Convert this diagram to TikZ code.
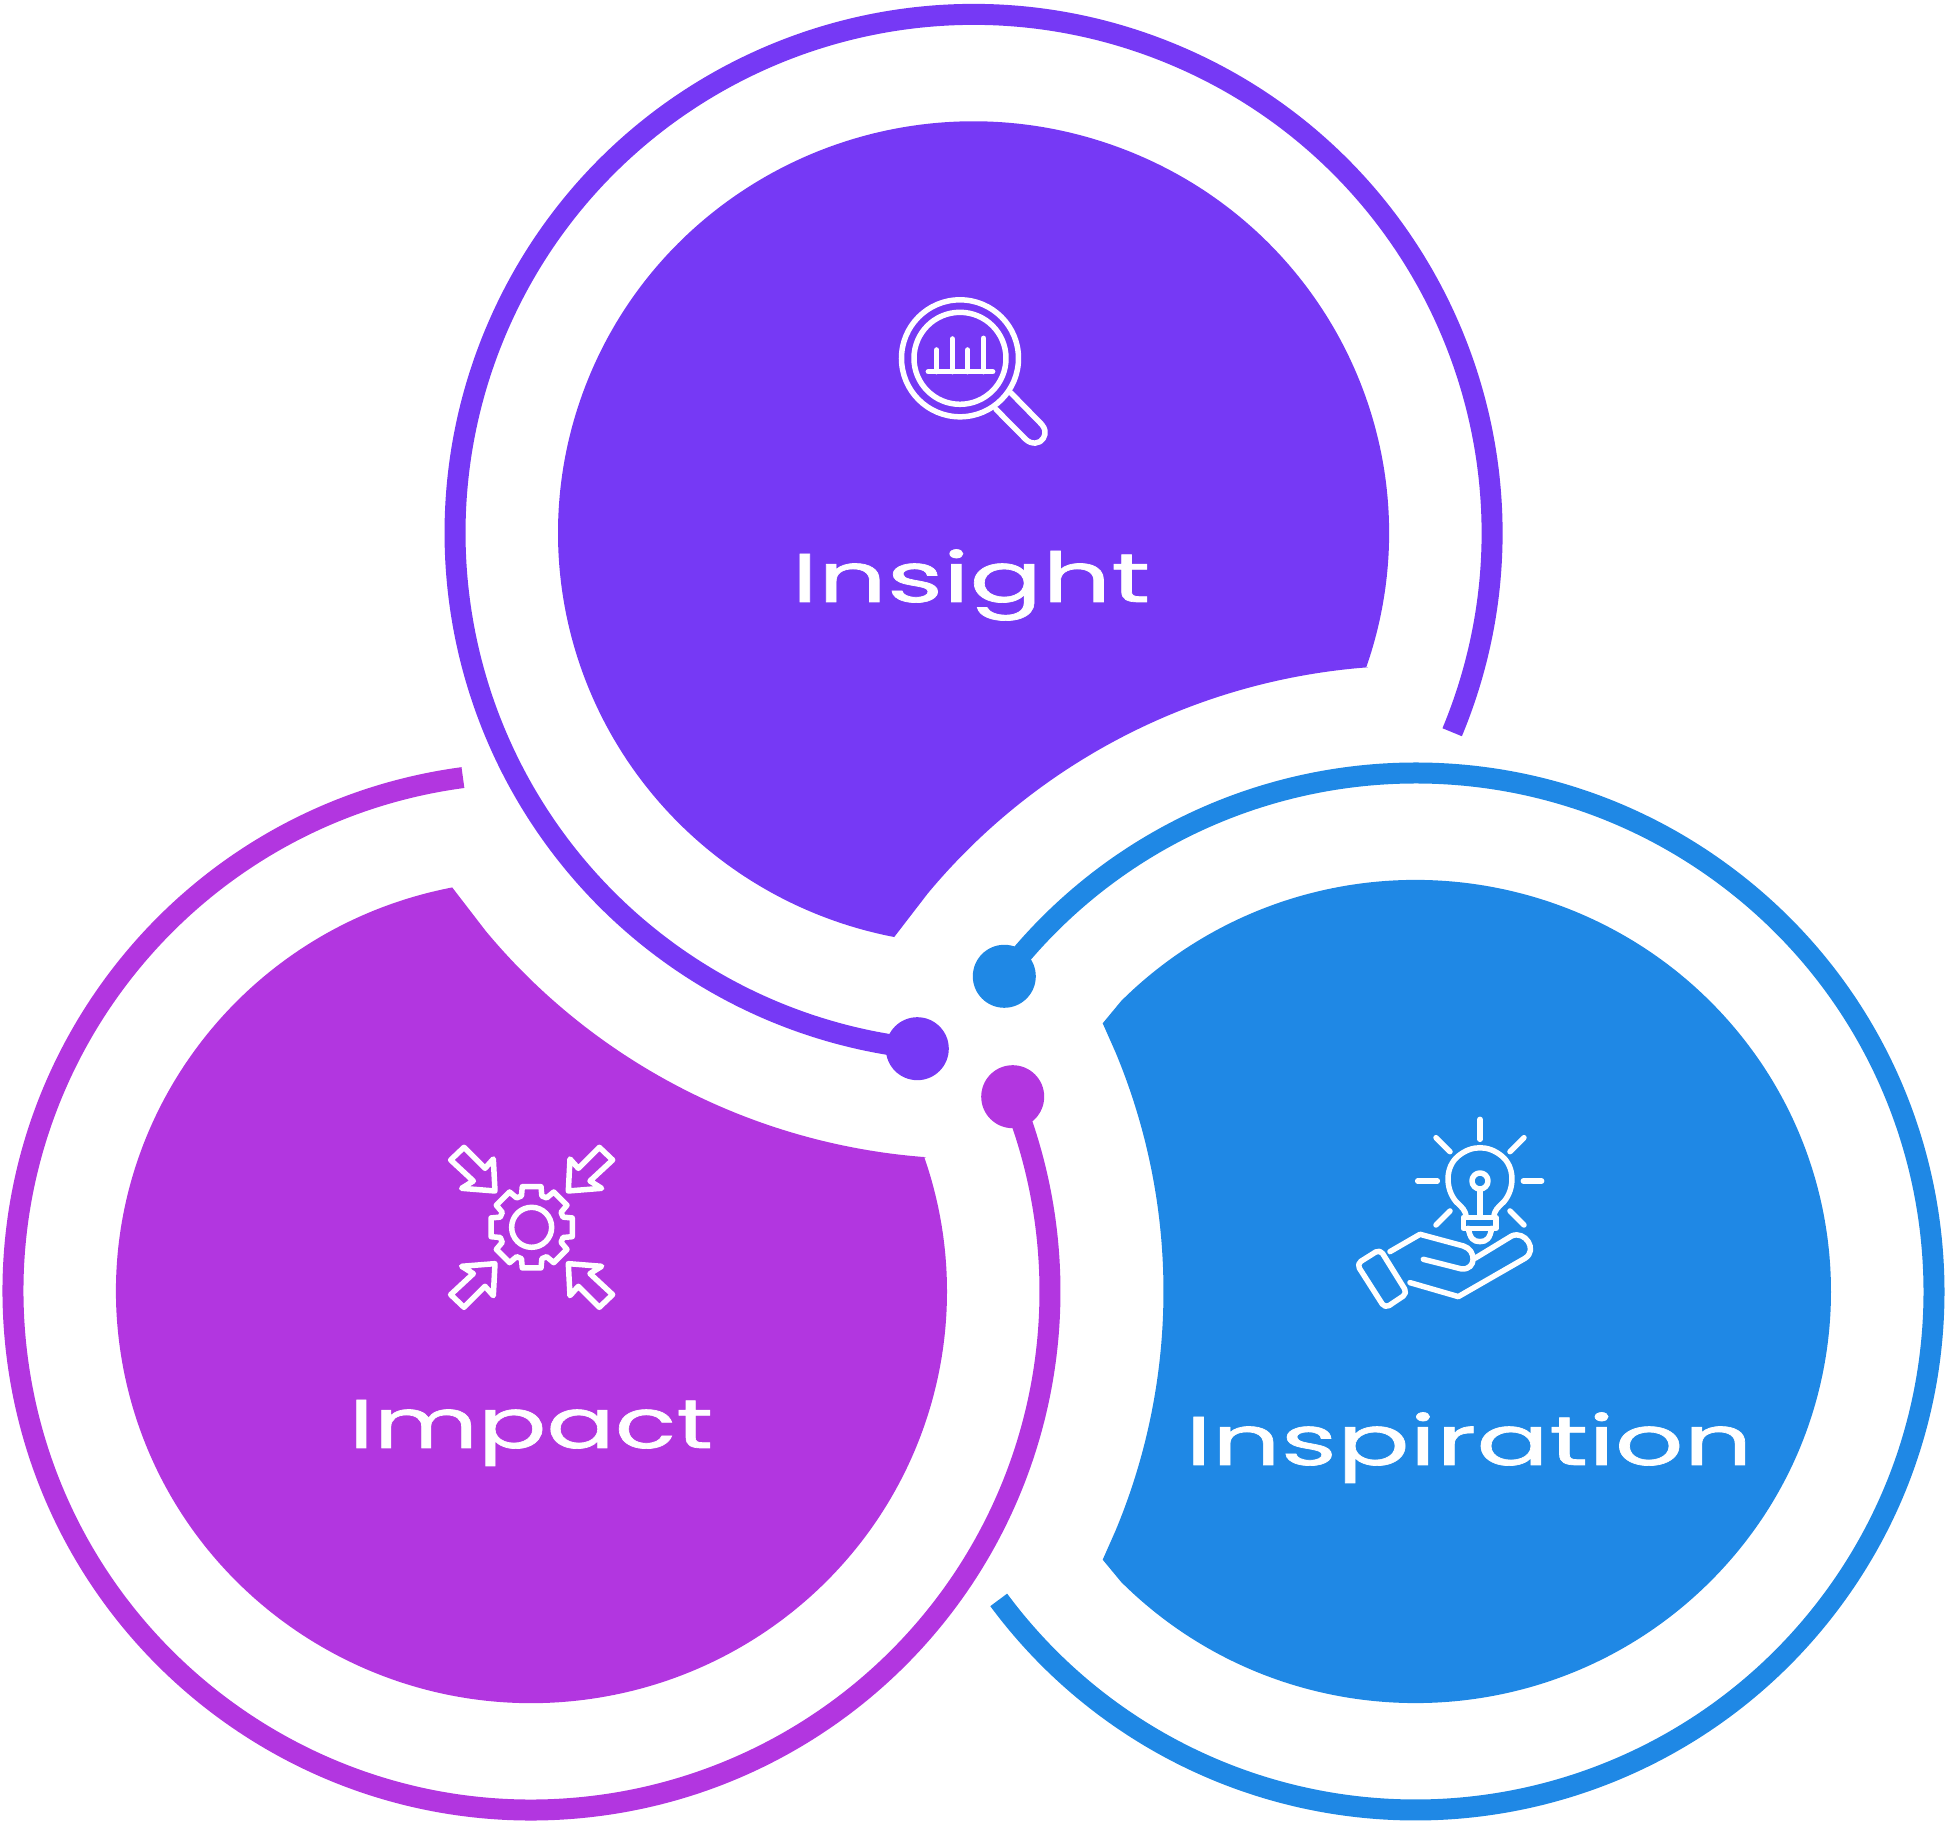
\documentclass[tikz,border=0pt]{standalone}
\usepackage{fontspec}
\setmainfont[FakeStretch=1.56,FakeBold=1]{Poppins}
\definecolor{insightcol}{RGB}{118,57,245}
\definecolor{impactcol}{RGB}{178,54,224}
\definecolor{inspirecol}{RGB}{31,136,229}
\tikzset{
  ringarc/.style={line width=21pt},
  jointdot/.style={circle,inner sep=0pt,minimum size=63pt},
  bigword/.style={text=white,anchor=base,inner sep=0pt,font=\fontsize{69}{69}\selectfont},
  iconline/.style={draw=white,line width=5.5pt,line cap=round,line join=round}
}
\begin{document}
\begin{tikzpicture}[x=1pt,y=1pt]
  \useasboundingbox (0,0) rectangle (1947,1824);
  \coordinate (insightc) at (973.5,1291);
  \coordinate (impactc) at (531.5,532.5);
  \coordinate (inspirec) at (1415.5,532.5);
  \coordinate (inspiretip) at (1102.7,800.7);
  \coordinate (inspiretail) at (1102.7,264.3);
  % rings
  \draw[ringarc,insightcol] ([shift={(-22.6:518.5pt)}]insightc) arc[start angle=-22.6,end angle=263.7,radius=518.5pt];
  \draw[ringarc,impactcol] ([shift={(97.6:518.5pt)}]impactc) arc[start angle=97.6,end angle=382,radius=518.5pt];
  \draw[ringarc,inspirecol] ([shift={(142.6:518.5pt)}]inspirec) arc[start angle=142.6,end angle=-143.5,radius=518.5pt];
  \node[jointdot,fill=insightcol] (insightdot) at (917.3,775.3) {};
  \node[jointdot,fill=impactcol] (impactdot) at (1012.7,727.3) {};
  \node[jointdot,fill=inspirecol] (inspiredot) at (1004.3,847.7) {};
  % cut discs
  \fill[insightcol] ([shift={(-19:415.5pt and 411.6pt)}]insightc) arc[start angle=-19,end angle=259,x radius=415.5pt,y radius=411.6pt]
    -- ([shift={(140.5:632pt and 626pt)}]inspirec) arc[start angle=140.5,end angle=94.3,x radius=632pt,y radius=626pt] -- cycle;
  \fill[impactcol] ([shift={(101:415.5pt and 411.6pt)}]impactc) arc[start angle=101,end angle=379,x radius=415.5pt,y radius=411.6pt]
    -- ([shift={(265.7:632pt and 626pt)}]insightc) arc[start angle=265.7,end angle=219.5,x radius=632pt,y radius=626pt] -- cycle;
  \fill[inspirecol] ([shift={(224.9:415.5pt and 411.6pt)}]inspirec) arc[start angle=224.9,end angle=495.1,x radius=415.5pt,y radius=411.6pt]
    -- (inspiretip) -- ([shift={(22.5:632pt and 626pt)}]impactc) arc[start angle=22.5,end angle=-22.5,x radius=632pt,y radius=626pt]
    -- (inspiretail) -- cycle;
  % words
  \node[bigword] (insightword) at (971,1222) {Insight};
  \node[bigword] (impactword) at (531,376) {\scalebox{0.94}[1]{Impact}};
  \node[bigword] (inspireword) at (1469,359) {Inspiration};
  % magnifier
  \begin{scope}[shift={(860,1554)},x=0.3333pt,y=-0.3333pt,iconline]
    \draw (300,265) circle[radius=58.5pt];
    \draw (300,265) circle[radius=46pt];
    \draw (205,305) -- (398,305);
    \foreach \barx/\bary in {230/240,277/207,323/240,371/205}
      \draw (\barx,305) -- (\barx,\bary);
    \draw (408,418) -- (497,508) .. controls (515,525) and (540,522) .. (550,505)
      .. controls (560,488) and (555,475) .. (545,463) -- (452,368);
  \end{scope}
  % gear and arrows
  \begin{scope}[shift={(430,704)},x=0.3333pt,y=-0.3333pt,iconline]
    \draw (305,322) circle[radius=20pt];
    \draw ([shift={(305,322)}]-13:125) \foreach \ang in {0,45,...,315}
      {-- ([shift={(305,322)}]\ang-13:125) -- ([shift={(305,322)}]\ang+13:125)
       -- ([shift={(305,322)}]\ang+18:99) -- ([shift={(305,322)}]\ang+27:99)} -- cycle;
    \foreach \sx/\sy in {1/1,-1/1,1/-1,-1/-1}
      \draw[shift={(305,322)},xscale=\sx,yscale=\sy] (-243,-202) -- (-203,-240) -- (-140,-177)
        -- (-115,-205) -- (-110,-109) -- (-210,-117) -- (-175,-139) -- cycle;
  \end{scope}
  % bulb and hand
  \begin{scope}[shift={(1330,724)},x=0.3333pt,y=-0.3333pt,iconline]
    \draw (408,352) .. controls (408,330) and (395,322) .. (378,305) .. controls (345,265) and (345,200) .. (385,168)
      .. controls (425,135) and (475,135) .. (515,168) .. controls (555,200) and (555,265) .. (522,305)
      .. controls (505,322) and (492,330) .. (492,352);
    \draw (400,352) -- (498,352) -- (498,385) -- (400,385) -- cycle;
    \draw (415,385) .. controls (420,415) and (430,425) .. (450,425) .. controls (470,425) and (480,415) .. (485,385);
    \draw (450,243) circle[radius=8pt];
    \draw (450,268) -- (450,352);
    \draw (450,58) -- (450,118);
    \draw (580,243) -- (635,243);
    \draw (263,243) -- (322,243);
    \draw (318,113) -- (360,155);
    \draw (582,113) -- (540,155);
    \draw (318,375) -- (360,333);
    \draw (582,375) -- (540,333);
    \draw[rounded corners=5pt] (80,492) -- (150,448) -- (232,580) -- (165,625) -- cycle;
    \draw (180,455) -- (270,403) -- (400,438) .. controls (440,450) and (440,510) .. (395,507) -- (280,478);
    \draw (435,475) -- (545,408) .. controls (585,390) and (625,450) .. (585,475) -- (385,590) -- (240,548);
  \end{scope}
\end{tikzpicture}
\end{document}
